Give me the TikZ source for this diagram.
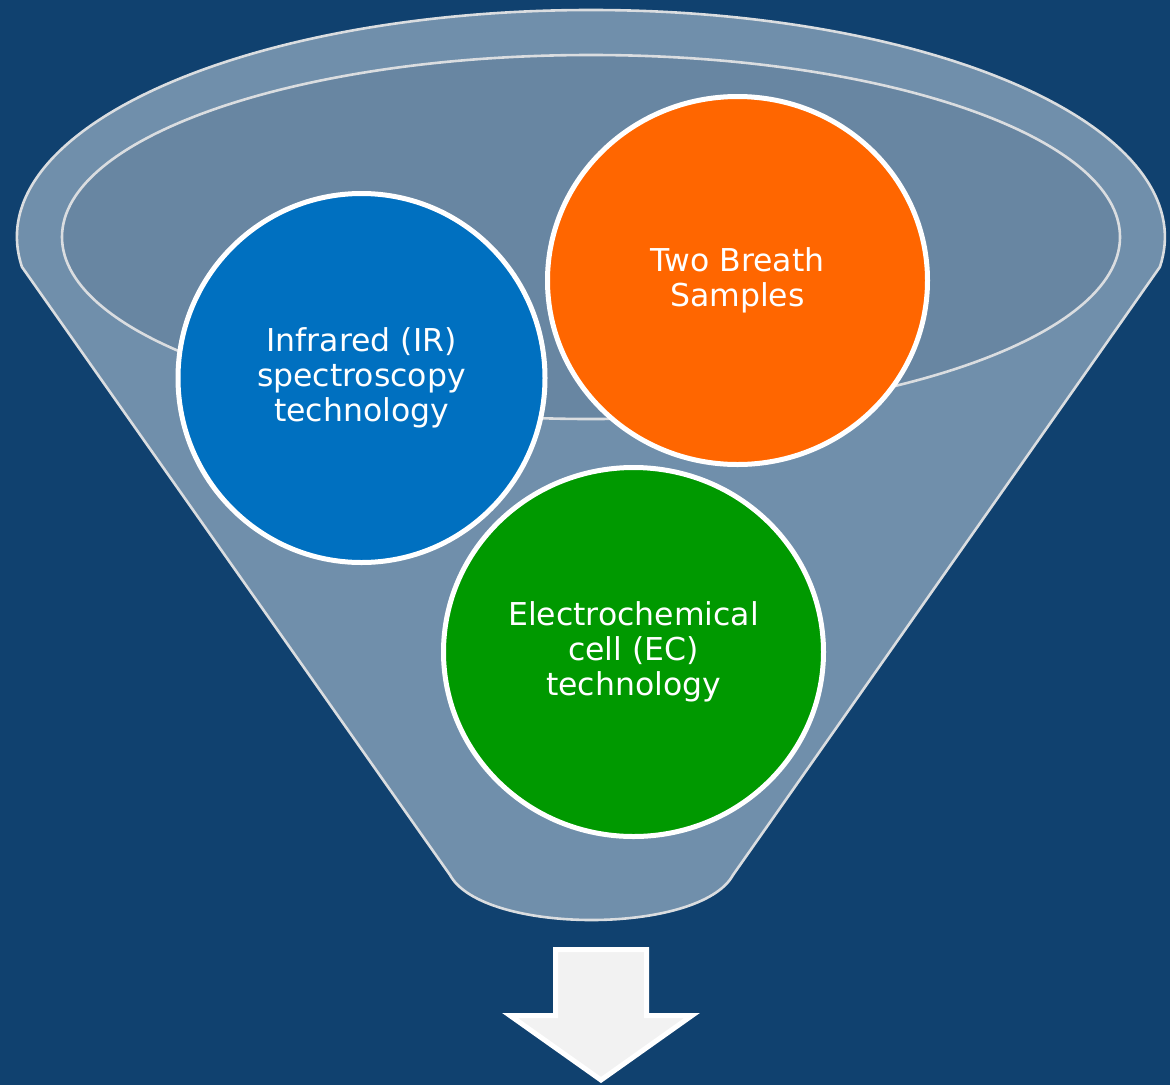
\documentclass[tikz,border=0pt]{standalone}
\usepackage{fontspec}
\setmainfont{DejaVu Sans}
\usetikzlibrary{shapes.geometric}

\definecolor{bgblue}{HTML}{10416F}
\definecolor{funnel}{HTML}{708FAB}
\definecolor{funnelin}{HTML}{6886A2}
\definecolor{rimgray}{HTML}{DADDE0}
\definecolor{arrowgray}{HTML}{F2F2F2}
\definecolor{irblue}{HTML}{0070C0}
\definecolor{breathorange}{HTML}{FF6600}
\definecolor{ecgreen}{HTML}{009900}

\tikzset{
  rim/.style={draw=rimgray,line width=2.6pt},
  bubble/.style={ellipse,draw=white,line width=5pt,text=white,align=center,
    inner sep=0pt,font=\fontsize{31.5}{35}\selectfont}
}

\begin{document}
\begin{tikzpicture}[x=1pt,y=-1pt]
    \useasboundingbox (0,0) rectangle (1170,1085);
    \fill[bgblue] (0,0) rectangle (1170,1085);
    % funnel
    \coordinate (ctr) at (591,237);
    \coordinate (lt) at (22,267);
    \coordinate (rb) at (733,875);
    \coordinate (lb) at (450,875);
    \filldraw[rim,fill=funnel] (lt)
      arc[start angle=172.4,end angle=367.6,x radius=574,y radius=227]
      -- (rb) .. controls (700,935) and (483,935) .. (lb) -- cycle;
    \filldraw[rim,fill=funnelin] (ctr) ellipse[x radius=529,y radius=182];
    % arrow out
    \coordinate (tip) at (601,1080);
    \filldraw[draw=white,line width=5pt,fill=arrowgray]
      (555.5,949.5) -- (646.5,949.5) -- (646.5,1015.5) -- (692,1015.5)
      -- (tip) -- (510,1015.5) -- (555.5,1015.5) -- cycle;
    % inputs
    \node[bubble,fill=irblue,minimum width=367pt,minimum height=369pt] (ir)
      at (361.5,378) {Infrared (IR)\\spectroscopy\\technology};
    \node[bubble,fill=breathorange,minimum width=380pt,minimum height=368pt] (breath)
      at (737.5,280.5) {Two Breath\\Samples};
    \node[bubble,fill=ecgreen,minimum width=380pt,minimum height=369pt] (ec)
      at (633.5,652) {Electrochemical\\cell (EC)\\technology};
\end{tikzpicture}
\end{document}
